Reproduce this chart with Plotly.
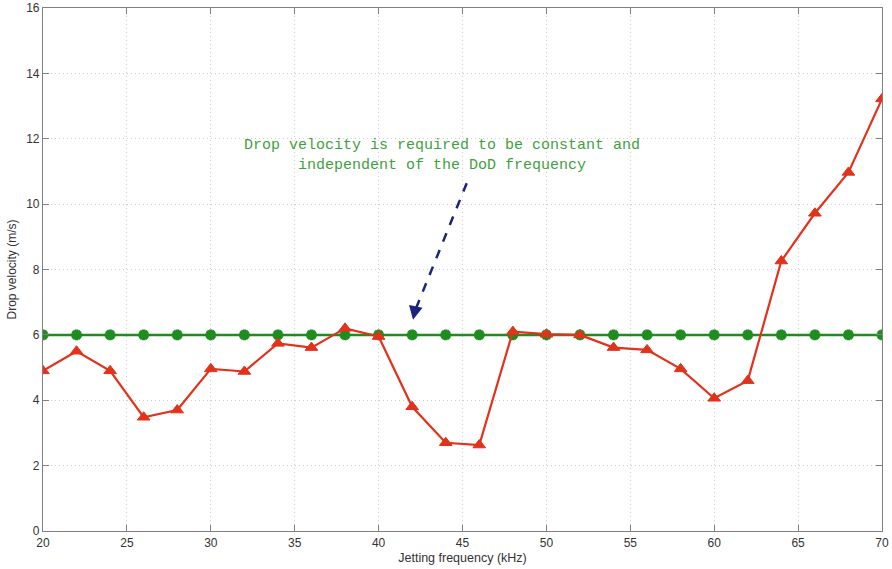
import plotly.graph_objects as go

freq = [20, 22, 24, 26, 28, 30, 32, 34, 36, 38, 40, 42, 44, 46, 48, 50, 52, 54, 56, 58, 60, 62, 64, 66, 68, 70]
measured = [4.9, 5.5, 4.9, 3.48, 3.7, 4.96, 4.88, 5.74, 5.61, 6.2, 5.95, 3.8, 2.7, 2.63,
            6.1, 6.02, 6.0, 5.61, 5.54, 4.96, 4.06, 4.6, 8.26, 9.72, 10.97, 13.22]
required = [6.0] * len(freq)

x_ticks = [20, 25, 30, 35, 40, 45, 50, 55, 60, 65, 70]
y_ticks = [0, 2, 4, 6, 8, 10, 12, 14, 16]

note_text = "Drop velocity is required to be constant and<br>independent of the DoD frequency"
note_x, note_y = 43.8, 11.48
arrow_tail = (45.25, 10.64)
arrow_head = (42.05, 6.46)

fig = go.Figure()
fig.add_trace(go.Scatter(
    x=freq, y=required, mode="lines+markers",
    line=dict(color="#1e8c1e", width=2.5),
    marker=dict(symbol="asterisk-open", size=9, color="#1e8c1e",
                line=dict(color="#1e8c1e", width=3.5)),
    showlegend=False, hoverinfo="skip"))
fig.add_trace(go.Scatter(
    x=freq, y=measured, mode="lines+markers",
    line=dict(color="#e2321c", width=2.2),
    marker=dict(symbol="triangle-up", size=11, color="#e2321c",
                line=dict(color="#e2321c", width=1)),
    showlegend=False, hoverinfo="skip"))

# dashed arrow shaft
fig.add_shape(type="line", xref="x", yref="y",
              x0=arrow_tail[0], y0=arrow_tail[1], x1=arrow_head[0] + 0.1, y1=arrow_head[1] + 0.25,
              line=dict(color="#1a237e", width=2.5, dash="dash"))
# arrow head
fig.add_annotation(x=arrow_head[0], y=arrow_head[1], ax=arrow_head[0] + 0.1, ay=arrow_head[1] + 0.25,
                   xref="x", yref="y", axref="x", ayref="y", text="",
                   showarrow=True, arrowhead=2, arrowsize=1.1, arrowwidth=2.5,
                   arrowcolor="#1a237e")

fig.add_annotation(x=note_x, y=note_y, xref="x", yref="y", text=note_text,
                   showarrow=False,
                   font=dict(family="Liberation Mono, Courier New, monospace",
                             size=15, color="#3f9f3f"),
                   align="center")

axis_common = dict(showline=True, linecolor="#808080", linewidth=1.2, mirror="ticks",
                   ticks="inside", ticklen=6, tickcolor="#808080",
                   showgrid=True, gridcolor="#cfcfcf", griddash="1px,3px", gridwidth=1,
                   zeroline=False, automargin=False,
                   tickfont=dict(family="Liberation Sans, Arial", size=12, color="#333333"))

fig.update_xaxes(range=[20, 70], tickvals=x_ticks, ticktext=[str(v) for v in x_ticks],
                 title=dict(text="Jetting frequency (kHz)", standoff=4,
                            font=dict(family="Liberation Sans, Arial", size=12.5, color="#333333")),
                 **axis_common)
fig.update_yaxes(range=[0, 16], tickvals=y_ticks, ticktext=[str(v) for v in y_ticks],
                 title=dict(text="Drop velocity (m/s)", standoff=6,
                            font=dict(family="Liberation Sans, Arial", size=12, color="#333333")),
                 **axis_common)

fig.update_layout(width=892, height=569, margin=dict(l=43, r=10, t=8, b=38),
                  plot_bgcolor="white", paper_bgcolor="white")

fig.write_html("out.html")
